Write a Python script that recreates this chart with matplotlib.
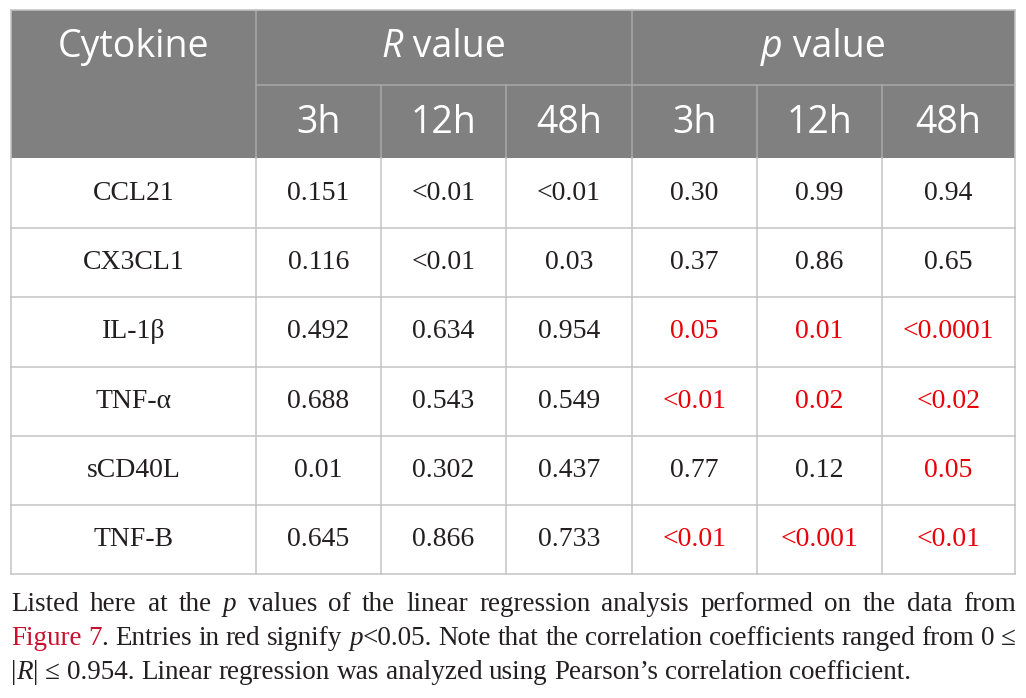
import matplotlib
matplotlib.use("Agg")
import matplotlib.pyplot as plt

# table content
cytokines = ["CCL21", "CX3CL1", "IL-1\u03b2", "TNF-\u03b1", "sCD40L", "TNF-B"]
time_points = ["3h", "12h", "48h"]
r_3h = ["0.151", "0.116", "0.492", "0.688", "0.01", "0.645"]
r_12h = ["<0.01", "<0.01", "0.634", "0.543", "0.302", "0.866"]
r_48h = ["<0.01", "0.03", "0.954", "0.549", "0.437", "0.733"]
p_3h = ["0.30", "0.37", "0.05", "<0.01", "0.77", "<0.01"]
p_12h = ["0.99", "0.86", "0.01", "0.02", "0.12", "<0.001"]
p_48h = ["0.94", "0.65", "<0.0001", "<0.02", "0.05", "<0.01"]
# which p entries are printed in red (p<0.05)
p_3h_sig = [False, False, True, True, False, True]
p_12h_sig = [False, False, True, True, False, True]
p_48h_sig = [False, False, True, True, True, True]

# layout in pixels
col_x = [11, 256, 381, 506, 632, 757, 882, 1015]
head_y = [10, 85, 158]
row_y = [158, 228, 297, 367, 436, 505, 574]

HEAD_BG = "#808080"
HEAD_LINE = "#a9a9a9"
GRID = "#c3c3c3"
INK = "#231f20"
RED = "#e8000a"
LINK = "#c8102e"
SANS = "Open Sans"
SERIF = "Liberation Serif"

fig = plt.figure(figsize=(10.26, 6.98), dpi=100)
ax = fig.add_axes([0, 0, 1, 1])
ax.set_xlim(0, 1026)
ax.set_ylim(698, 0)
ax.axis("off")
renderer = fig.canvas.get_renderer()


def seg_width(t):
    return t.get_window_extent(renderer).width


def put_segments(x, y, segs, align="center", size=18, family=SERIF, va="center"):
    # segs: list of (text, color, style)
    objs = []
    for s, c, st in segs:
        objs.append(ax.text(0, y, s, color=c, fontstyle=st, fontsize=size,
                            family=family, ha="left", va=va))
    widths = [seg_width(o) for o in objs]
    total = sum(widths)
    start = x - total / 2 if align == "center" else x
    for o, w in zip(objs, widths):
        o.set_x(start)
        start += w
    return total


# header background
ax.fill_between([col_x[0], col_x[-1]], head_y[0], head_y[2], color=HEAD_BG, lw=0)

# header texts
hsize = 27
put_segments((col_x[0] + col_x[1]) / 2, 47, [("Cytokine", "white", "normal")],
             size=hsize, family=SANS)
put_segments((col_x[1] + col_x[4]) / 2, 47,
             [("R", "white", "italic"), (" value", "white", "normal")], size=hsize, family=SANS)
put_segments((col_x[4] + col_x[7]) / 2, 47,
             [("p", "white", "italic"), (" value", "white", "normal")], size=hsize, family=SANS)
for i in range(6):
    put_segments((col_x[i + 1] + col_x[i + 2]) / 2, 123,
                 [(time_points[i % 3], "white", "normal")], size=hsize, family=SANS)

# header lines
ax.plot([col_x[1], col_x[-1]], [head_y[1], head_y[1]], color=HEAD_LINE, lw=1.1)
for xv in [col_x[1], col_x[4]]:
    ax.plot([xv, xv], [head_y[0], head_y[2]], color=HEAD_LINE, lw=1.1)
for xv in [col_x[2], col_x[3], col_x[5], col_x[6]]:
    ax.plot([xv, xv], [head_y[1], head_y[2]], color=HEAD_LINE, lw=1.1)

# body
columns = [cytokines, r_3h, r_12h, r_48h, p_3h, p_12h, p_48h]
flags = [None, None, None, None, p_3h_sig, p_12h_sig, p_48h_sig]
for ci, col in enumerate(columns):
    cx = (col_x[ci] + col_x[ci + 1]) / 2
    for ri, val in enumerate(col):
        cy = (row_y[ri] + row_y[ri + 1]) / 2
        color = INK
        if flags[ci] is not None and flags[ci][ri]:
            color = RED
        ax.text(cx, cy, val, ha="center", va="center", fontsize=20,
                family=SERIF, color=color)

# body grid
for yv in row_y[1:]:
    ax.plot([col_x[0], col_x[-1]], [yv, yv], color=GRID, lw=1.1)
for xv in col_x:
    ax.plot([xv, xv], [row_y[0], row_y[-1]], color=GRID, lw=1.1)
ax.plot([col_x[0], col_x[-1]], [head_y[0], head_y[0]], color=GRID, lw=1.1)
for xv in [col_x[0], col_x[-1]]:
    ax.plot([xv, xv], [head_y[0], head_y[2]], color=GRID, lw=1.1)

# footnote, justified like the journal layout
N, I = "normal", "italic"
note_lines = [
    [[("Listed", INK, N)], [("here", INK, N)], [("at", INK, N)], [("the", INK, N)],
     [("p", INK, I)], [("values", INK, N)], [("of", INK, N)], [("the", INK, N)],
     [("linear", INK, N)], [("regression", INK, N)], [("analysis", INK, N)],
     [("performed", INK, N)], [("on", INK, N)], [("the", INK, N)], [("data", INK, N)],
     [("from", INK, N)]],
    [[("Figure", LINK, N)], [("7", LINK, N), (".", INK, N)], [("Entries", INK, N)],
     [("in", INK, N)], [("red", INK, N)], [("signify", INK, N)],
     [("p", INK, I), ("<0.05.", INK, N)], [("Note", INK, N)], [("that", INK, N)],
     [("the", INK, N)], [("correlation", INK, N)], [("coefficients", INK, N)],
     [("ranged", INK, N)], [("from", INK, N)], [("0", INK, N)], [("\u2264", INK, N)]],
    [[("|", INK, N), ("R", INK, I), ("|", INK, N)], [("\u2264", INK, N)], [("0.954.", INK, N)],
     [("Linear", INK, N)], [("regression", INK, N)], [("was", INK, N)],
     [("analyzed", INK, N)], [("using", INK, N)], [("Pearson\u2019s", INK, N)],
     [("correlation", INK, N)], [("coefficient.", INK, N)]],
]
note_base = [611, 645, 679]
nsize = 19.5
left, right = col_x[0], col_x[-1] + 1
for li, words in enumerate(note_lines):
    objs = []
    for w in words:
        parts = []
        for s, c, st in w:
            t = ax.text(0, note_base[li], s, color=c, fontstyle=st, fontsize=nsize,
                        family=SERIF, ha="left", va="baseline")
            parts.append((t, seg_width(t)))
        objs.append(parts)
    wsum = [sum(p[1] for p in parts) for parts in objs]
    if li < 2:
        gap = (right - left - sum(wsum)) / (len(objs) - 1)
    else:
        gap = nsize * 0.25 * 100 / 72
    x = left
    for parts, ww in zip(objs, wsum):
        xx = x
        for t, w in parts:
            t.set_x(xx)
            xx += w
        x += ww + gap

fig.savefig("out.png", dpi=100)
